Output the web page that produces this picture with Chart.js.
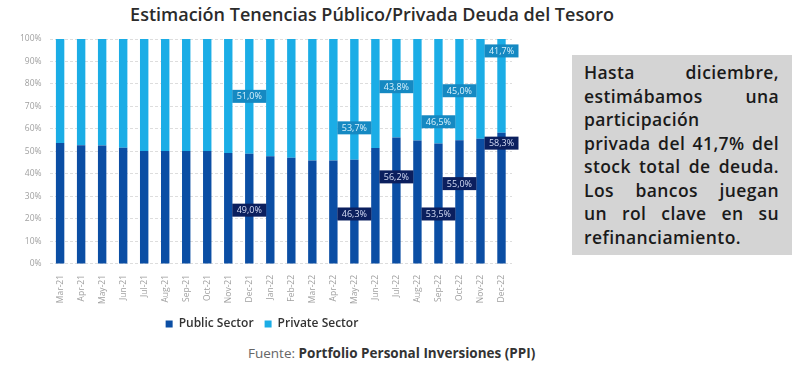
<!DOCTYPE html>
<html>
<head>
<meta charset="utf-8">
<script src="https://cdn.jsdelivr.net/npm/chart.js@4"></script>
<style>
  body { margin: 0; width: 800px; height: 365px; background: #fff; font-family: "Open Sans", sans-serif; position: relative; overflow: hidden; }
  #title { position: absolute; left: 0; width: 744px; top: 2px; text-align: center; font-size: 18px; font-weight: 600; color: #2b2b2b; }
  #wrap { position: absolute; left: 0; top: 0; width: 520px; height: 340px; }
  #note { position: absolute; left: 572px; top: 55px; width: 220px; height: 200px; background: #d4d4d4; box-sizing: border-box; padding: 6px 13px 0 12px; font-size: 17.5px; font-weight: 600; color: #1a1a1a; line-height: 23.5px; letter-spacing: 0.4px; }
  #note div { text-align: justify; text-align-last: justify; white-space: nowrap; }
  #note div.l { text-align-last: left; }
  #source { position: absolute; left: 248px; top: 344px; font-size: 13.5px; color: #666; }
  #source b { color: #333; font-weight: 700; }
</style>
</head>
<body>
<div id="title">Estimación Tenencias Público/Privada Deuda del Tesoro</div>
<div id="wrap"><canvas id="chart"></canvas></div>
<div id="note">
  <div>Hasta diciembre,</div>
  <div>estimábamos una</div>
  <div class="l">participación</div>
  <div>privada del 41,7% del</div>
  <div>stock total de deuda.</div>
  <div>Los bancos juegan</div>
  <div>un rol clave en su</div>
  <div class="l">refinanciamiento.</div>
</div>
<div id="source">Fuente: <b>Portfolio Personal Inversiones (PPI)</b></div>
<script>
const months = ["Mar-21", "Apr-21", "May-21", "Jun-21", "Jul-21", "Aug-21", "Sep-21", "Oct-21", "Nov-21", "Dec-21", "Jan-22",
  "Feb-22", "Mar-22", "Apr-22", "May-22", "Jun-22", "Jul-22", "Aug-22", "Sep-22", "Oct-22", "Nov-22", "Dec-22"];
const publicShare = [53.8, 52.8, 52.7, 51.6, 50.2, 50.2, 50.2, 50.2, 49.3, 49.0, 47.9,
  47.2, 46.0, 46.0, 46.3, 51.5, 56.2, 54.9, 53.5, 55.0, 55.7, 58.3];
const privateShare = [46.2, 47.2, 47.3, 48.4, 49.8, 49.8, 49.8, 49.8, 50.7, 51.0, 52.1,
  52.8, 54.0, 54.0, 53.7, 48.5, 43.8, 45.1, 46.5, 45.0, 44.3, 41.7];

// which months get a value box, and where (in % of the axis) the box sits
const labelledMonths = ["Dec-21", "May-22", "Jul-22", "Sep-22", "Oct-22", "Dec-22"];
const publicLabelAt = [23.9, 22.2, 38.7, 22.2, 35.7, 53.7];
const privateLabelAt = [74.5, 60.5, 78.8, 63.2, 77.0, 94.7];

const fmt = v => v.toFixed(1).replace(".", ",") + "%";

const valueBoxes = {
  id: "valueBoxes",
  afterDatasetsDraw(chart) {
    const { ctx, scales } = chart;
    const sets = [
      { ds: 0, values: publicShare, at: publicLabelAt, bg: "#0b1f5e", fg: "#d5dcf5" },
      { ds: 1, values: privateShare, at: privateLabelAt, bg: "#1589c2", fg: "#d8f1fc" },
    ];
    ctx.save();
    ctx.font = "9px 'Open Sans'";
    ctx.textAlign = "center";
    ctx.textBaseline = "middle";
    sets.forEach(s => {
      const meta = chart.getDatasetMeta(s.ds);
      labelledMonths.forEach((m, k) => {
        const i = months.indexOf(m);
        const x = meta.data[i].x;
        const y = scales.y.getPixelForValue(s.at[k]);
        ctx.fillStyle = s.bg;
        ctx.fillRect(x - 17, y - 6.5, 34, 13);
        ctx.fillStyle = s.fg;
        ctx.fillText(fmt(s.values[i]), x, y + 0.5);
      });
    });
    ctx.restore();
  },
};

Chart.register(valueBoxes);
const ctx = document.getElementById("chart");

const chart = new Chart(ctx, {
  type: "bar",
  data: {
    labels: months,
    datasets: [
      {
        label: "Public Sector",
        data: publicShare,
        backgroundColor: "#0b4ea4",
      },
      {
        label: "Private Sector",
        data: privateShare,
        backgroundColor: "#1bade6",
      },
    ],
  },
  options: {
    responsive: true,
    maintainAspectRatio: false,
    animation: false,
    datasets: {
      bar: { barPercentage: 0.4, categoryPercentage: 1 },
    },
    layout: { padding: { top: 39, left: 12, right: 8, bottom: 0 } },
    plugins: {
      legend: {
        position: "bottom",
        labels: {
          boxWidth: 7,
          boxHeight: 7,
          padding: 11,
          color: "#333",
          font: { family: "Open Sans", size: 12, weight: "600" },
        },
      },
      tooltip: { enabled: false },
    },
    scales: {
      x: {
        stacked: true,
        grid: { display: false },
        border: { display: false },
        ticks: {
          minRotation: 90,
          maxRotation: 90,
          color: "#a0a0a0",
          font: { family: "Open Sans", size: 8.5 },
        },
      },
      y: {
        stacked: true,
        min: 0,
        max: 100,
        grid: { color: "#dddddd", drawTicks: false },
        border: { display: false, dash: [3, 2] },
        ticks: {
          stepSize: 10,
          padding: 8,
          color: "#a0a0a0",
          font: { family: "Open Sans", size: 8.5 },
          callback: v => v + "%",
        },
      },
    },
  },
});
</script>
</body>
</html>
